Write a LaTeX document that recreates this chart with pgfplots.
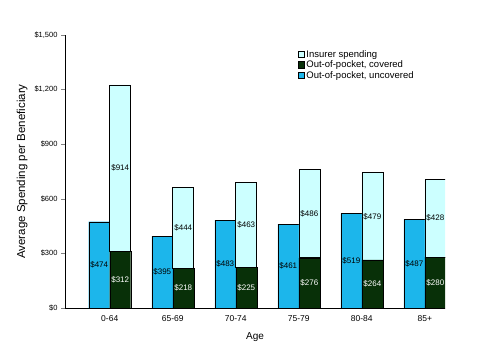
\documentclass[border=0pt]{standalone}
\usepackage{fontspec}
\setmainfont{Liberation Sans}
\usepackage{pgfplots}
\pgfplotsset{compat=1.18}
\definecolor{unc}{RGB}{28,182,235}
\definecolor{cov}{RGB}{8,48,8}
\definecolor{ins}{RGB}{204,255,255}
\begin{document}
\begin{tikzpicture}[x=1pt,y=1pt]
\path[use as bounding box] (0,0) rectangle (480,360);
\pgfplotsset{myaxis/.style={at={(65pt,52pt)}, anchor=south west, scale only axis,
  width=380pt, height=273pt, xmin=-0.71, xmax=5.32, ymin=0, ymax=1500}}
% axis 1: axes + uncovered bars
\begin{axis}[myaxis,
  axis x line=bottom, axis y line=left, axis line style={-, line width=0.8pt},
  ytick={0,300,600,900,1200,1500},
  yticklabels={\$0,\$300,\$600,\$900,{\$1,200},{\$1,500}},
  xtick={0,1,2,3,4,5},
  xticklabels={0-64,65-69,70-74,75-79,80-84,85+},
  xtick style={draw=none},
  ytick style={line width=0.6pt},
  tick align=outside, major tick length=4pt,
  yticklabel style={font=\fontsize{7.5}{8}\selectfont},
  xticklabel style={font=\fontsize{8.5}{9}\selectfont},
  /pgf/number format/assume math mode=true,
  ylabel={Average Spending per Beneficiary},
  ylabel style={at={(axis description cs:-0.113,0.5)}, anchor=center, font=\fontsize{11.5}{12}\selectfont},
  xlabel={Age},
  xlabel style={at={(axis description cs:0.5,-0.106)}, anchor=center, font=\fontsize{10}{11}\selectfont},
]
\addplot[ybar, bar width=21pt, bar shift=-10.5pt, fill=unc, draw=black, line width=0.4pt]
  coordinates {(0,474) (1,395) (2,483) (3,461) (4,519) (5,487)};
\end{axis}
% axis 2: stacked covered + insurer
\begin{axis}[myaxis, hide axis, ybar stacked, bar width=21pt, bar shift=10.5pt,
  reverse legend,
  legend style={at={(0.61,0.955)}, anchor=north west, draw=none, fill=none,
    font=\fontsize{9.5}{10}\selectfont, row sep=-2pt, inner sep=1pt},
  legend cell align=left,
  legend image code/.code={\draw[#1, draw=black, line width=0.4pt] (0pt,-3pt) rectangle (6pt,3.5pt);},
]
\addlegendimage{fill=unc}
\addlegendentry{Out-of-pocket, uncovered}
\addplot[fill=cov, draw=black, line width=0.4pt]
  coordinates {(0,312) (1,218) (2,225) (3,276) (4,264) (5,280)};
\addlegendentry{Out-of-pocket, covered}
\addplot[fill=ins, draw=black, line width=0.6pt]
  coordinates {(0,914) (1,444) (2,463) (3,486) (4,479) (5,428)};
\addlegendentry{Insurer spending}
\end{axis}
% axis 3: value labels
\begin{axis}[myaxis, hide axis]
\addplot[only marks, mark=none, nodes near coords, point meta=explicit symbolic,
  nodes near coords style={anchor=center, font=\fontsize{8}{9}\selectfont, text=black}]
  coordinates {(-0.1667,237) [\$474] (0.8333,197.5) [\$395] (1.8333,241.5) [\$483]
   (2.8333,230.5) [\$461] (3.8333,259.5) [\$519] (4.8333,243.5) [\$487]};
\addplot[only marks, mark=none, nodes near coords, point meta=explicit symbolic,
  nodes near coords style={anchor=center, font=\fontsize{8}{9}\selectfont, text=white}]
  coordinates {(0.1667,156) [\$312] (1.1667,109) [\$218] (2.1667,112.5) [\$225]
   (3.1667,138) [\$276] (4.1667,132) [\$264] (5.1667,140) [\$280]};
\addplot[only marks, mark=none, nodes near coords, point meta=explicit symbolic,
  nodes near coords style={anchor=center, font=\fontsize{8}{9}\selectfont, text=black}]
  coordinates {(0.1667,769) [\$914] (1.1667,440) [\$444] (2.1667,456.5) [\$463]
   (3.1667,519) [\$486] (4.1667,503.5) [\$479] (5.1667,494) [\$428]};
\end{axis}
\end{tikzpicture}
\end{document}
